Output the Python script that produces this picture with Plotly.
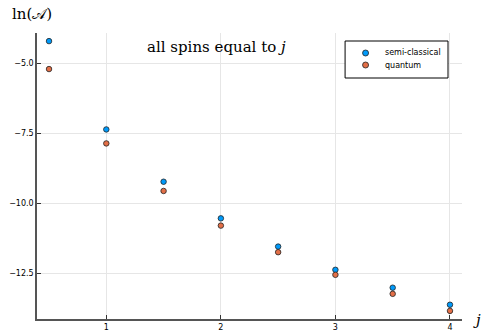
import plotly.graph_objects as go

j_values = [0.5, 1.0, 1.5, 2.0, 2.5, 3.0, 3.5, 4.0]
semi_classical = [-4.20, -7.36, -9.23, -10.54, -11.55, -12.38, -13.02, -13.63]
quantum = [-5.20, -7.86, -9.56, -10.80, -11.75, -12.56, -13.24, -13.85]
x_ticks = [1, 2, 3, 4]
y_ticks = [-5.0, -7.5, -10.0, -12.5]
series_names = ["semi-classical", "quantum"]
series_colors = ["#009AFA", "#E36F47"]

W, H = 483, 332
L, R, T, B = 36.7, 21, 33, 13
pw, ph = W - L - R, H - T - B

def px(xp):
    return (xp - L) / pw

def py(yp):
    return (H - B - yp) / ph

fig = go.Figure()
for name, vals, col in zip(series_names, [semi_classical, quantum], series_colors):
    fig.add_trace(go.Scatter(x=j_values, y=vals, mode="markers", name=name, showlegend=False,
                             marker=dict(color=col, size=5.5, line=dict(color="#222", width=0.8))))

axis_common = dict(showline=True, linecolor="#555", linewidth=1.5, mirror=False,
                   ticks="inside", ticklen=4, tickcolor="#333", tickwidth=1,
                   showgrid=True, gridcolor="#e6e6e6", gridwidth=1, zeroline=False,
                   automargin=False,
                   tickfont=dict(family="DejaVu Sans", size=8, color="#000"))

fig.update_xaxes(range=[0.395, 4.105], tickvals=x_ticks, **axis_common)
fig.update_yaxes(range=[-14.14, -3.91], tickvals=y_ticks, tickformat=".1f", **axis_common)

fig.add_annotation(text="all spins equal to <i>j</i>", xref="paper", yref="paper",
                   x=px(216), y=py(47), xanchor="center", yanchor="middle", showarrow=False,
                   font=dict(family="DejaVu Serif", size=15, color="#000"))
fig.add_annotation(text="ln(𝒜)", xref="paper", yref="paper",
                   x=px(32), y=py(14), xanchor="center", yanchor="middle", showarrow=False,
                   font=dict(family="DejaVu Serif", size=15, color="#000"))
fig.add_annotation(text="<i>j</i>", xref="paper", yref="paper",
                   x=px(477), y=py(320), xanchor="center", yanchor="middle", showarrow=False,
                   font=dict(family="DejaVu Serif", size=15, color="#000"))

# legend box drawn manually
fig.add_shape(type="rect", xref="paper", yref="paper",
              x0=px(345), x1=px(448), y0=py(41), y1=py(78),
              line=dict(color="#000", width=1), fillcolor="white", layer="above")
for i, (name, col) in enumerate(zip(series_names, series_colors)):
    yc = 53 + 12 * i
    fig.add_shape(type="circle", xref="paper", yref="paper",
                  x0=px(362.5), x1=px(368.5), y0=py(yc - 3), y1=py(yc + 3),
                  line=dict(color="#222", width=0.8), fillcolor=col, layer="above")
    fig.add_annotation(text=name, xref="paper", yref="paper",
                       x=px(383), y=py(yc), xanchor="left", yanchor="middle", showarrow=False,
                       font=dict(family="DejaVu Sans", size=8, color="#000"))

fig.update_layout(
    width=W, height=H,
    margin=dict(l=L, r=R, t=T, b=B, autoexpand=False),
    paper_bgcolor="white", plot_bgcolor="white",
    showlegend=False,
)

fig.write_html("out.html", config={"displayModeBar": False},
               post_script="document.body.style.margin='0';document.body.style.overflow='hidden';")
